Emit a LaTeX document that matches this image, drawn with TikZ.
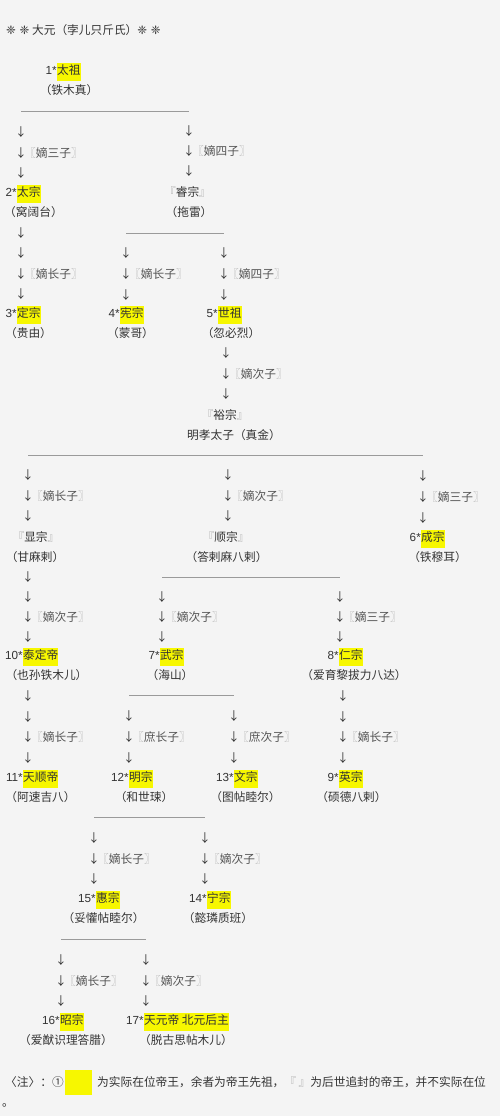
\documentclass[tikz,border=0pt]{standalone}
\usepackage{fontspec}
\setmainfont{Liberation Sans}
\newfontfamily\cjk{Noto Sans CJK SC}
\newfontfamily\sym{DejaVu Sans}
\usetikzlibrary{positioning}
\definecolor{paper}{HTML}{F4F4F4}
\definecolor{ink}{HTML}{333333}
\definecolor{kinink}{HTML}{555555}
\definecolor{brk}{HTML}{B0B0B0}
\definecolor{barcol}{HTML}{9A9A9A}
\definecolor{hl}{HTML}{F7F700}
\newcommand{\kin}[1]{\textcolor{brk}{〖}#1\textcolor{brk}{〗}}
\newcommand{\post}[1]{\textcolor{brk}{『}#1\textcolor{brk}{』}}

\begin{document}
\begin{tikzpicture}[x=1pt, y=-1pt,
    txt/.style={inner sep=0pt, font=\cjk\fontsize{11.7}{14}\selectfont, text=ink},
    nm/.style={txt, anchor=base},
    emp/.style={txt, fill=hl, text height=11pt, text depth=7pt, anchor=base west},
    num/.style={inner sep=0pt, font=\fontsize{11.7}{14}\selectfont, text=ink, text height=11pt, text depth=7pt},
    dn/.style={txt},
    rel/.style={txt, text=kinink, anchor=west, xshift=3pt},
    genbar/.style={draw=barcol, line width=0.9pt}]
    % Page
    \fill[paper] (0,0) rectangle (500,1116);
    \node[txt, anchor=base west] (title) at (6,34.2) {{\sym ❈ ❈} 大元（孛儿只斤氏）{\sym ❈ ❈}};

    % Generation 1
    \node[emp] (t1) at (57,74.2) {太祖};
    \node[num, base left=0pt of t1] {1*};
    \node[nm] (n1) at (69,94.2) {（铁木真）};
    \coordinate (c2) at (21,111);
    \coordinate (cRui) at (189,111);
    \draw[genbar] (c2) -- (cRui);

    % Generation 2
    \node[emp] (t2) at (17,196.2) {太宗};
    \node[num, base left=0pt of t2] {2*};
    \node[nm] (n2) at (33.5,216.2) {（窝阔台）};
    \node[nm] (pRui) at (187.5,196.2) {\post{睿宗}};
    \node[nm] (nRui) at (189,216.2) {（拖雷）};
    \path (c2) -- (t2 -| c2) node[dn,pos=.25]{↓} node[dn,pos=.5]{↓} node[rel,pos=.5]{\kin{嫡三子}} node[dn,pos=.75]{↓};
    \path (cRui) -- (pRui -| cRui) node[dn,pos=.25]{↓} node[dn,pos=.5]{↓} node[rel,pos=.5]{\kin{嫡四子}} node[dn,pos=.75]{↓};
    \coordinate (c3) at (21,212);
    \coordinate (c4) at (126,233);
    \coordinate (c5) at (224,233);
    \draw[genbar] (c4) -- (c5);

    % Generation 3
    \node[emp] (t3) at (17,317.2) {定宗};
    \node[num, base left=0pt of t3] {3*};
    \node[nm] (n3) at (28.5,337.2) {（贵由）};
    \node[emp] (t4) at (120,317.2) {宪宗};
    \node[num, base left=0pt of t4] {4*};
    \node[nm] (n4) at (130.5,337.2) {（蒙哥）};
    \node[emp] (t5) at (218,317.2) {世祖};
    \node[num, base left=0pt of t5] {5*};
    \node[nm] (n5) at (231,337.2) {（忽必烈）};
    \path (c3) -- (t3 -| c3) node[dn,pos=.2]{↓} node[dn,pos=.4]{↓} node[dn,pos=.6]{↓} node[rel,pos=.6]{\kin{嫡长子}} node[dn,pos=.8]{↓};
    \path (c4) -- (t4 -| c4) node[dn,pos=.25]{↓} node[dn,pos=.5]{↓} node[rel,pos=.5]{\kin{嫡长子}} node[dn,pos=.75]{↓};
    \path (c5) -- (t5 -| c5) node[dn,pos=.25]{↓} node[dn,pos=.5]{↓} node[rel,pos=.5]{\kin{嫡四子}} node[dn,pos=.75]{↓};
    \coordinate (cYu) at (226,333);

    % Generation 4
    \node[nm] (pYu) at (225,419.2) {\post{裕宗}};
    \node[nm] (nYu) at (234,439.2) {明孝太子（真金）};
    \path (cYu) -- (pYu -| cYu) node[dn,pos=.25]{↓} node[dn,pos=.5]{↓} node[rel,pos=.5]{\kin{嫡次子}} node[dn,pos=.75]{↓};
    \coordinate (cXian) at (28,455);
    \coordinate (cShun) at (228,455);
    \coordinate (c6) at (423,455);
    \draw[genbar] (cXian) -- (c6);

    % Generation 5
    \node[nm] (pXian) at (36,541.2) {\post{显宗}};
    \node[nm] (nXian) at (35,561.2) {（甘麻剌）};
    \node[nm] (pShun) at (226,541.2) {\post{顺宗}};
    \node[nm] (nShun) at (226.5,561.2) {（答剌麻八剌）};
    \node[emp] (t6) at (421,541.2) {成宗};
    \node[num, base left=0pt of t6] {6*};
    \node[nm] (n6) at (437.5,561.2) {（铁穆耳）};
    \path (cXian) -- (pXian -| cXian) node[dn,pos=.25]{↓} node[dn,pos=.5]{↓} node[rel,pos=.5]{\kin{嫡长子}} node[dn,pos=.75]{↓};
    \path (cShun) -- (pShun -| cShun) node[dn,pos=.25]{↓} node[dn,pos=.5]{↓} node[rel,pos=.5]{\kin{嫡次子}} node[dn,pos=.75]{↓};
    \path (c6) -- (t6 -| c6) node[dn,pos=.25]{↓} node[dn,pos=.5]{↓} node[rel,pos=.5]{\kin{嫡三子}} node[dn,pos=.75]{↓};
    \coordinate (c10) at (28,557);
    \coordinate (c7) at (162,577);
    \coordinate (c8) at (340,577);
    \draw[genbar] (c7) -- (c8);

    % Generation 6
    \node[emp] (t10) at (23,659.2) {泰定帝};
    \node[num, base left=0pt of t10] {10*};
    \node[nm] (n10) at (46.5,679.2) {（也孙铁木儿）};
    \node[emp] (t7) at (160,659.2) {武宗};
    \node[num, base left=0pt of t7] {7*};
    \node[nm] (n7) at (170,679.2) {（海山）};
    \node[emp] (t8) at (339,659.2) {仁宗};
    \node[num, base left=0pt of t8] {8*};
    \node[nm] (n8) at (354,679.2) {（爱育黎拔力八达）};
    \path (c10) -- (t10 -| c10) node[dn,pos=.2]{↓} node[dn,pos=.4]{↓} node[dn,pos=.6]{↓} node[rel,pos=.6]{\kin{嫡次子}} node[dn,pos=.8]{↓};
    \path (c7) -- (t7 -| c7) node[dn,pos=.25]{↓} node[dn,pos=.5]{↓} node[rel,pos=.5]{\kin{嫡次子}} node[dn,pos=.75]{↓};
    \path (c8) -- (t8 -| c8) node[dn,pos=.25]{↓} node[dn,pos=.5]{↓} node[rel,pos=.5]{\kin{嫡三子}} node[dn,pos=.75]{↓};
    \coordinate (c11) at (28,675);
    \coordinate (c12) at (129,695);
    \coordinate (c13) at (234,695);
    \coordinate (c9) at (343,675);
    \draw[genbar] (c12) -- (c13);

    % Generation 7
    \node[emp] (t11) at (23,781.2) {天顺帝};
    \node[num, base left=0pt of t11] {11*};
    \node[nm] (n11) at (40.5,801.2) {（阿速吉八）};
    \node[emp] (t12) at (129,781.2) {明宗};
    \node[num, base left=0pt of t12] {12*};
    \node[nm] (n12) at (144,801.2) {（和世㻋）};
    \node[emp] (t13) at (234,781.2) {文宗};
    \node[num, base left=0pt of t13] {13*};
    \node[nm] (n13) at (245.5,801.2) {（图帖睦尔）};
    \node[emp] (t9) at (339,781.2) {英宗};
    \node[num, base left=0pt of t9] {9*};
    \node[nm] (n9) at (351.5,801.2) {（硕德八剌）};
    \path (c11) -- (t11 -| c11) node[dn,pos=.2]{↓} node[dn,pos=.4]{↓} node[dn,pos=.6]{↓} node[rel,pos=.6]{\kin{嫡长子}} node[dn,pos=.8]{↓};
    \path (c12) -- (t12 -| c12) node[dn,pos=.25]{↓} node[dn,pos=.5]{↓} node[rel,pos=.5]{\kin{庶长子}} node[dn,pos=.75]{↓};
    \path (c13) -- (t13 -| c13) node[dn,pos=.25]{↓} node[dn,pos=.5]{↓} node[rel,pos=.5]{\kin{庶次子}} node[dn,pos=.75]{↓};
    \path (c9) -- (t9 -| c9) node[dn,pos=.2]{↓} node[dn,pos=.4]{↓} node[dn,pos=.6]{↓} node[rel,pos=.6]{\kin{嫡长子}} node[dn,pos=.8]{↓};
    \coordinate (c15) at (94,817);
    \coordinate (c14) at (205,817);
    \draw[genbar] (c15) -- (c14);

    % Generation 8
    \node[emp] (t15) at (96,902.2) {惠宗};
    \node[num, base left=0pt of t15] {15*};
    \node[nm] (n15) at (103.5,922.2) {（妥懽帖睦尔）};
    \node[emp] (t14) at (207,902.2) {宁宗};
    \node[num, base left=0pt of t14] {14*};
    \node[nm] (n14) at (218,922.2) {（懿璘质班）};
    \path (c15) -- (t15 -| c15) node[dn,pos=.25]{↓} node[dn,pos=.5]{↓} node[rel,pos=.5]{\kin{嫡长子}} node[dn,pos=.75]{↓};
    \path (c14) -- (t14 -| c14) node[dn,pos=.25]{↓} node[dn,pos=.5]{↓} node[rel,pos=.5]{\kin{嫡次子}} node[dn,pos=.75]{↓};
    \coordinate (c16) at (61,939);
    \coordinate (c17) at (146,939);
    \draw[genbar] (c16) -- (c17);

    % Generation 9
    \node[emp] (t16) at (60,1024.2) {昭宗};
    \node[num, base left=0pt of t16] {16*};
    \node[nm] (n16) at (66,1044.2) {（爱猷识理答腊）};
    \node[emp] (t17) at (144,1024.2) {天元帝 北元后主};
    \node[num, base left=0pt of t17] {17*};
    \node[nm] (n17) at (186,1044.2) {（脱古思帖木儿）};
    \path (c16) -- (t16 -| c16) node[dn,pos=.25]{↓} node[dn,pos=.5]{↓} node[rel,pos=.5]{\kin{嫡长子}} node[dn,pos=.75]{↓};
    \path (c17) -- (t17 -| c17) node[dn,pos=.25]{↓} node[dn,pos=.5]{↓} node[rel,pos=.5]{\kin{嫡次子}} node[dn,pos=.75]{↓};

    % Note
    \node[txt, anchor=base west] (note) at (5,1086.2) {〈注〉：①};
    \node[fill=hl, minimum width=27pt, minimum height=25pt, inner sep=0pt, anchor=west] (key) at (65,1082.5) {};
    \node[txt, anchor=base west] (notetext) at (97,1086.2) {为实际在位帝王，余者为帝王先祖，\post{ }为后世追封的帝王，并不实际在位};
    \node[txt, anchor=base west] (stop) at (2,1106.5) {。};
\end{tikzpicture}
\end{document}
